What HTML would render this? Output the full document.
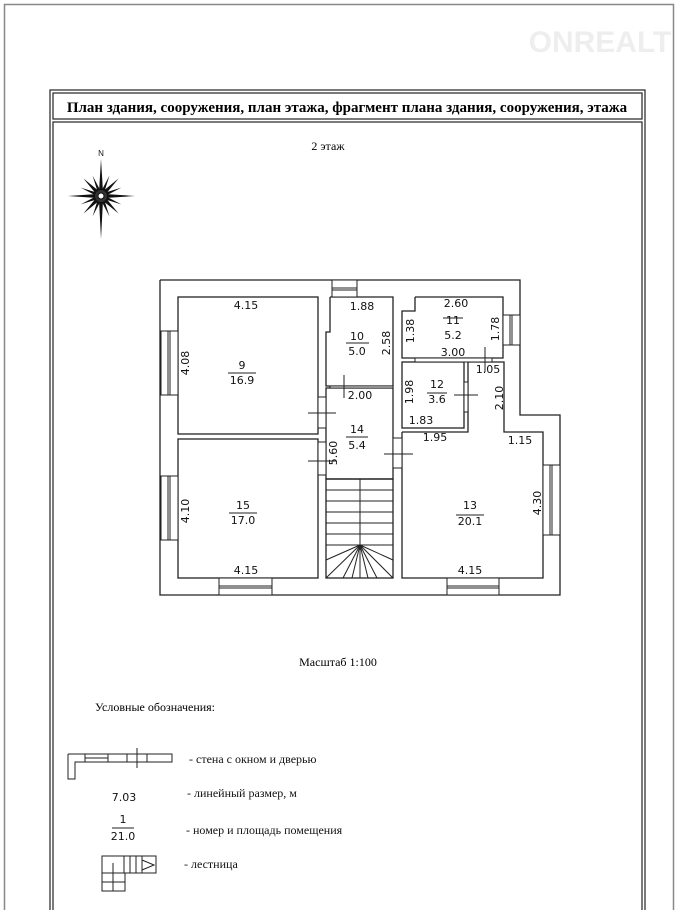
<!DOCTYPE html><html><head><meta charset="utf-8"><style>body{margin:0;background:#fff}svg{display:block}</style></head><body>
<svg width="678" height="910" viewBox="0 0 678 910" xmlns="http://www.w3.org/2000/svg">
<rect x="0" y="0" width="678" height="910" fill="#fff"/>
<rect x="4.5" y="4.5" width="669" height="910" fill="none" stroke="#888" stroke-width="1.5"/>
<text x="600" y="52" font-family="Liberation Sans" font-weight="bold" font-size="30" fill="#eee" text-anchor="middle">ONREALT</text>
<g fill="none" stroke="#222" stroke-width="1.2">
<rect x="50" y="90" width="595" height="830"/><rect x="53" y="93" width="589" height="26"/><rect x="53" y="122" width="589" height="800"/>
</g>
<text x="347" y="112" font-family="Liberation Serif" font-weight="bold" font-size="15" text-anchor="middle">План здания, сооружения, план этажа, фрагмент плана здания, сооружения, этажа</text>
<text x="328" y="150" font-family="Liberation Serif" font-size="12" text-anchor="middle">2 этаж</text>
<!-- compass -->
<g transform="translate(101,196)" fill="#111">
<text x="0" y="-40" font-family="Liberation Sans" font-size="8" text-anchor="middle">N</text>
<polygon points="0,-37 2,-4 0,0 -2,-4"/><polygon points="0,43 2,4 0,0 -2,4"/>
<polygon points="-33,0 -4,-2 0,0 -4,2"/><polygon points="34,0 4,-2 0,0 4,2"/>
<g transform="rotate(22.5)"><polygon points="0,-22 2,0 0,22 -2,0"/><polygon points="-22,0 0,2 22,0 0,-2"/></g>
<g transform="rotate(45)"><polygon points="0,-25 2.5,0 0,25 -2.5,0"/><polygon points="-25,0 0,2.5 25,0 0,-2.5"/></g>
<g transform="rotate(67.5)"><polygon points="0,-22 2,0 0,22 -2,0"/><polygon points="-22,0 0,2 22,0 0,-2"/></g>
<circle r="6" fill="#333"/><circle r="3" fill="#fff" stroke="#111"/>
</g>
<!-- plan -->
<g fill="none" stroke="#222" stroke-width="1.3">
<polyline points="160,280 520,280 520,415 560,415 560,595 160,595 160,280"/>
<rect x="178" y="297" width="140" height="137"/>
<rect x="178" y="439" width="140" height="139"/>
<polyline points="330,297 393,297 393,386 326,386 326,332 330,332 330,297"/>
<rect x="326" y="388" width="67" height="91"/>
<rect x="326" y="479" width="67" height="99"/>
<polyline points="415,297 503,297 503,358 402,358 402,311 415,311 415,297"/>
<rect x="402" y="362" width="62" height="66"/>
<polyline points="402,432 468,432 468,362 504,362 504,432 543,432 543,578 402,578 402,432"/>
</g>
<g fill="#fff" stroke="#222" stroke-width="1">
<rect x="332" y="280" width="25" height="17"/><line x1="332" y1="288" x2="357" y2="288"/><line x1="332" y1="290" x2="357" y2="290"/>
<rect x="161" y="331" width="17" height="64"/><line x1="168" y1="331" x2="168" y2="395"/><line x1="170" y1="331" x2="170" y2="395"/>
<rect x="161" y="476" width="17" height="64"/><line x1="168" y1="476" x2="168" y2="540"/><line x1="170" y1="476" x2="170" y2="540"/>
<rect x="219" y="578" width="53" height="17"/><line x1="219" y1="586" x2="272" y2="586"/><line x1="219" y1="588" x2="272" y2="588"/>
<rect x="447" y="578" width="52" height="17"/><line x1="447" y1="586" x2="499" y2="586"/><line x1="447" y1="588" x2="499" y2="588"/>
<rect x="503" y="315" width="17" height="30"/><line x1="510" y1="315" x2="510" y2="345"/><line x1="512" y1="315" x2="512" y2="345"/>
<rect x="543" y="465" width="17" height="70"/><line x1="550" y1="465" x2="550" y2="535"/><line x1="552" y1="465" x2="552" y2="535"/>
<rect x="318" y="397" width="8" height="31"/><rect x="318" y="442" width="8" height="33"/>
<rect x="393" y="438" width="9" height="30"/><rect x="464" y="382" width="4" height="30"/>
<rect x="330" y="386" width="63" height="2"/><rect x="415" y="358" width="77" height="4"/>
</g>
<g stroke="#222" stroke-width="1">
<line x1="308" y1="413" x2="336" y2="413"/><line x1="308" y1="461" x2="336" y2="461"/>
<line x1="384" y1="454" x2="413" y2="454"/><line x1="454" y1="395" x2="478" y2="395"/>
<line x1="344" y1="375" x2="344" y2="398"/><line x1="485" y1="347" x2="485" y2="372"/>
<!-- stairs -->
<line x1="360" y1="479" x2="360" y2="578"/>
<line x1="326" y1="490" x2="393" y2="490"/><line x1="326" y1="501" x2="393" y2="501"/><line x1="326" y1="512" x2="393" y2="512"/><line x1="326" y1="523" x2="393" y2="523"/><line x1="326" y1="534" x2="393" y2="534"/><line x1="326" y1="545" x2="393" y2="545"/>
<line x1="360" y1="545" x2="326" y2="578"/><line x1="360" y1="545" x2="326" y2="560"/><line x1="360" y1="545" x2="343" y2="578"/><line x1="360" y1="545" x2="352" y2="578"/>
<line x1="360" y1="545" x2="393" y2="578"/><line x1="360" y1="545" x2="393" y2="560"/><line x1="360" y1="545" x2="377" y2="578"/><line x1="360" y1="545" x2="368" y2="578"/>
<!-- fraction bars -->
<line x1="228" y1="373" x2="256" y2="373"/><line x1="229" y1="513" x2="257" y2="513"/>
<line x1="346" y1="343" x2="369" y2="343"/><line x1="443" y1="318" x2="463" y2="318"/>
<line x1="427" y1="393" x2="447" y2="393"/><line x1="346" y1="437" x2="368" y2="437"/>
<line x1="456" y1="515" x2="484" y2="515"/>
</g>
<g font-family="DejaVu Sans" font-size="11" fill="#111" text-anchor="middle">
<text x="246" y="309">4.15</text><text x="242" y="369">9</text><text x="242" y="384">16.9</text>
<text x="243" y="509">15</text><text x="243" y="524">17.0</text><text x="246" y="574">4.15</text>
<text x="362" y="310">1.88</text><text x="357" y="340">10</text><text x="357" y="355">5.0</text>
<text x="360" y="399">2.00</text><text x="357" y="433">14</text><text x="357" y="449">5.4</text>
<text x="456" y="307">2.60</text><text x="453" y="324">11</text><text x="453" y="339">5.2</text><text x="453" y="356">3.00</text>
<text x="488" y="373">1.05</text><text x="437" y="388">12</text><text x="437" y="403">3.6</text><text x="421" y="424">1.83</text>
<text x="435" y="441">1.95</text><text x="520" y="444">1.15</text>
<text x="470" y="509">13</text><text x="470" y="525">20.1</text><text x="470" y="574">4.15</text>
<text transform="translate(189,363) rotate(-90)">4.08</text>
<text transform="translate(189,511) rotate(-90)">4.10</text>
<text transform="translate(390,343) rotate(-90)">2.58</text>
<text transform="translate(337,453) rotate(-90)">5.60</text>
<text transform="translate(414,331) rotate(-90)">1.38</text>
<text transform="translate(499,329) rotate(-90)">1.78</text>
<text transform="translate(413,392) rotate(-90)">1.98</text>
<text transform="translate(503,398) rotate(-90)">2.10</text>
<text transform="translate(541,503) rotate(-90)">4.30</text>
</g>
<text x="338" y="666" font-family="Liberation Serif" font-size="12" text-anchor="middle">Масштаб 1:100</text>
<text x="95" y="711" font-family="Liberation Serif" font-size="12">Условные обозначения:</text>
<!-- legend -->
<g fill="none" stroke="#222" stroke-width="1">
<polyline points="68,754 172,754 172,762 75,762 75,779 68,779 68,754"/>
<rect x="85" y="754" width="23" height="8"/><line x1="85" y1="758" x2="108" y2="758"/>
<line x1="127" y1="754" x2="127" y2="762"/><line x1="147" y1="754" x2="147" y2="762"/><line x1="137" y1="748" x2="137" y2="768"/>
<rect x="102" y="856" width="54" height="17"/>
<polyline points="102,856 102,891 125,891 125,873"/><polyline points="102,873 113,873 113,891"/><line x1="102" y1="882" x2="125" y2="882"/><line x1="113" y1="863" x2="113" y2="873"/>
<line x1="124" y1="856" x2="124" y2="873"/><line x1="130" y1="856" x2="130" y2="873"/><line x1="136" y1="856" x2="136" y2="873"/><line x1="142" y1="856" x2="142" y2="873"/>
<polyline points="142,860 154,865 142,870"/>
</g>
<g font-family="DejaVu Sans" font-size="11" fill="#111" text-anchor="middle">
<text x="124" y="801">7.03</text><text x="123" y="823">1</text><text x="123" y="840">21.0</text>
</g>
<line x1="112" y1="828" x2="134" y2="828" stroke="#222"/>
<g font-family="Liberation Serif" font-size="12" fill="#111">
<text x="189" y="763">- стена с окном и дверью</text>
<text x="187" y="797">- линейный размер, м</text>
<text x="186" y="834">- номер и площадь помещения</text>
<text x="184" y="868">- лестница</text>
</g>
</svg>
</body></html>
